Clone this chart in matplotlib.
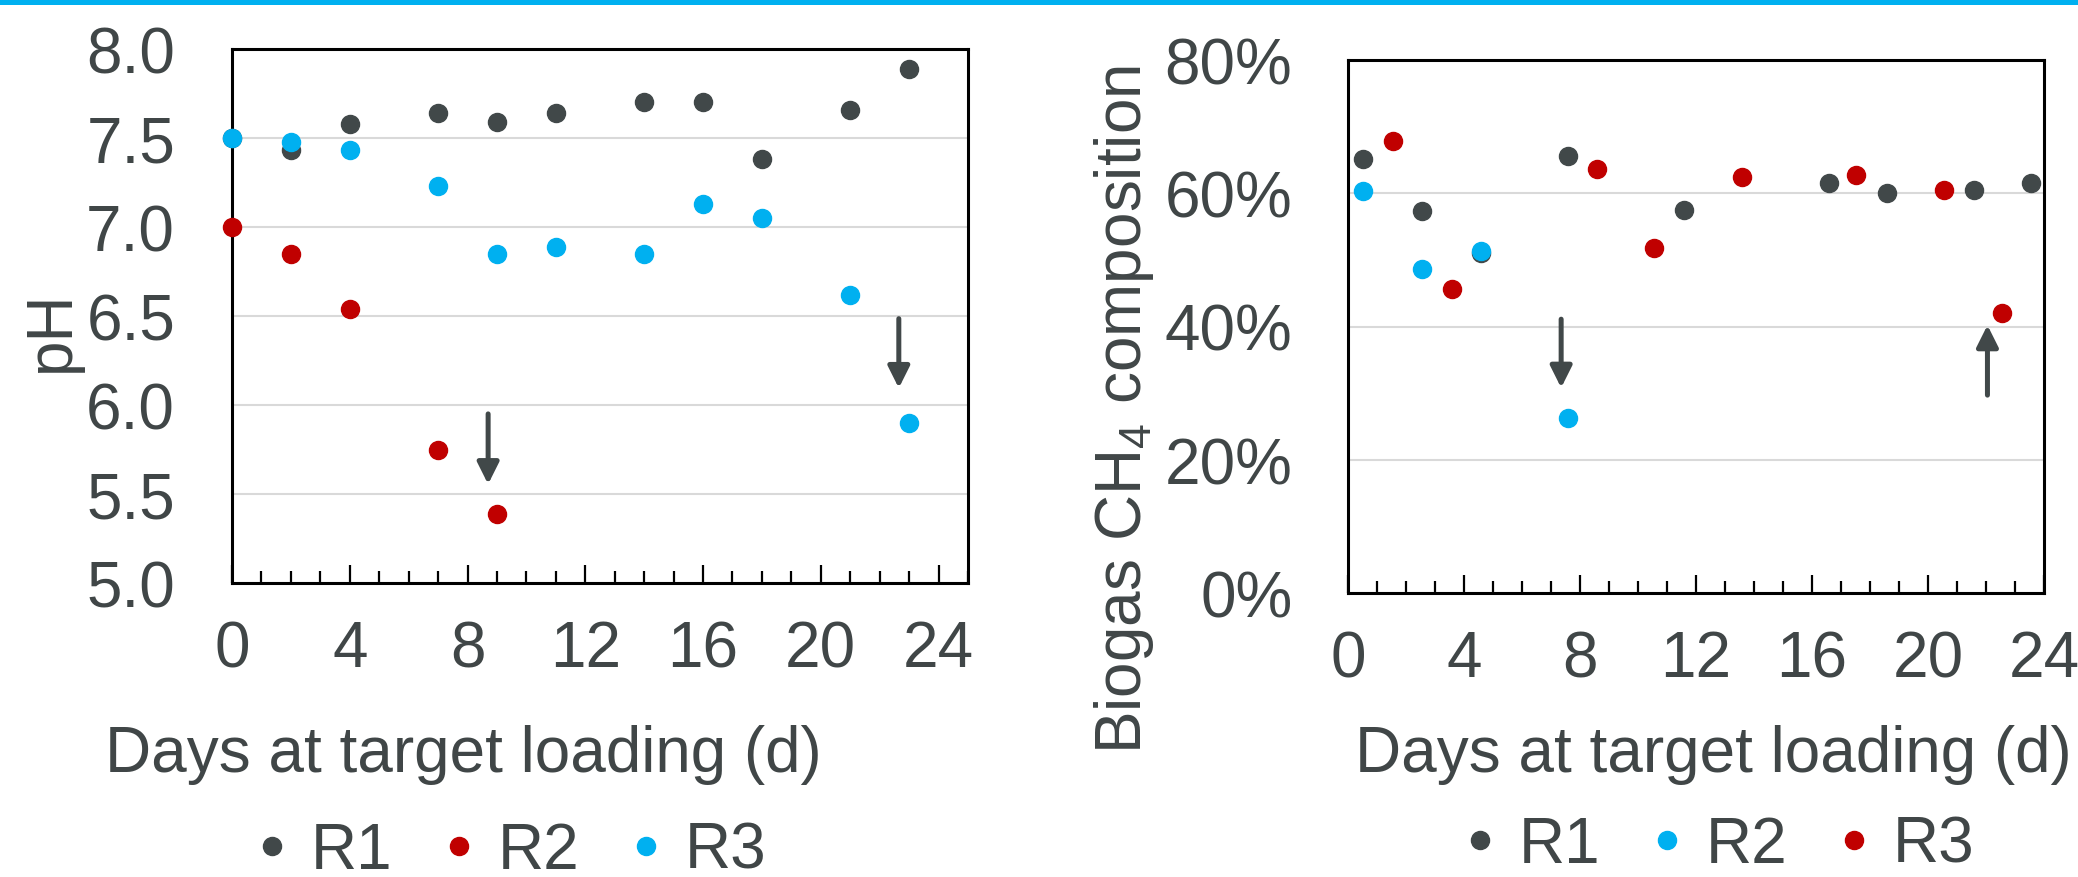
import matplotlib
matplotlib.use("Agg")
import matplotlib.pyplot as plt
from matplotlib.lines import Line2D
from matplotlib.ticker import MultipleLocator, PercentFormatter, FormatStrFormatter

# pH panel
ph_r1_days = [0, 2, 4, 7, 9, 11, 14, 16, 18, 21, 23]
ph_r1 = [7.50, 7.43, 7.58, 7.64, 7.59, 7.64, 7.70, 7.70, 7.38, 7.66, 7.89]
ph_r2_days = [0, 2, 4, 7, 9]
ph_r2 = [7.00, 6.85, 6.54, 5.75, 5.39]
ph_r3_days = [0, 2, 4, 7, 9, 11, 14, 16, 18, 21, 23]
ph_r3 = [7.50, 7.48, 7.43, 7.23, 6.85, 6.89, 6.85, 7.13, 7.05, 6.62, 5.90]
ph_arrows = [(8.7, 5.95, 5.555), (22.65, 6.485, 6.095)]  # day, tail, tip

# CH4 panel
ch4_r1_days = [0.5, 2.55, 4.6, 7.6, 11.6, 16.6, 18.6, 21.6, 23.55]
ch4_r1 = [0.652, 0.573, 0.511, 0.656, 0.575, 0.615, 0.600, 0.605, 0.616]
ch4_r2_days = [0.5, 2.55, 4.6, 7.6]
ch4_r2 = [0.604, 0.487, 0.514, 0.262]
ch4_r3_days = [1.55, 3.6, 8.6, 10.55, 13.6, 17.5, 20.55, 22.55]
ch4_r3 = [0.679, 0.456, 0.636, 0.518, 0.624, 0.628, 0.605, 0.420]
ch4_arrows = [(7.35, 0.411, 0.308), (22.05, 0.297, 0.402)]

DARK = "#414849"
RED = "#C00000"
BLUE = "#00B0F0"
TEXT = "#404647"
FS = 46

plt.rcParams["font.family"] = ["Liberation Sans", "DejaVu Sans"]
plt.rcParams["mathtext.fontset"] = "custom"
plt.rcParams["mathtext.rm"] = "Liberation Sans"


def style_axes(ax, xmax, ypad):
    """общая настройка осей"""
    ax.set_xlim(0, xmax)
    ax.xaxis.set_major_locator(MultipleLocator(4))
    ax.xaxis.set_minor_locator(MultipleLocator(1))
    ax.tick_params(axis="x", which="major", direction="in", length=13, width=1.6,
                   color="black", labelsize=FS, labelcolor=TEXT, pad=26)
    ax.tick_params(axis="x", which="minor", direction="in", length=9, width=1.6,
                   color="black")
    ax.tick_params(axis="y", which="both", length=0, labelsize=FS,
                   labelcolor=TEXT, pad=ypad)
    ax.grid(axis="y", color="#D9D9D9", lw=1.5)
    ax.set_axisbelow(True)
    for s in ax.spines.values():
        s.set_linewidth(2.2)
        s.set_color("black")


def draw_arrows(ax, arrows):
    for x, y0, y1 in arrows:
        ax.annotate("", xy=(x, y1), xytext=(x, y0),
                    arrowprops=dict(arrowstyle="-|>,head_length=13,head_width=6.5",
                                    mutation_scale=1, lw=3.6, color=DARK,
                                    shrinkA=0, shrinkB=0))


def add_legend(fig, colors, x, y):
    handles = [Line2D([], [], ls="", marker="o", ms=13, color=c) for c in colors]
    fig.legend(handles, ["R1", "R2", "R3"], loc="center", bbox_to_anchor=(x, y),
               ncol=3, frameon=False, fontsize=FS, labelcolor=TEXT,
               handlelength=0.4, handletextpad=0.4, columnspacing=0.85,
               borderpad=0, borderaxespad=0)


fig = plt.figure(figsize=(20.78, 8.78), dpi=100)

# left: pH
ax1 = fig.add_axes([232 / 2078, 1 - 584 / 878, 736 / 2078, 534 / 878])
style_axes(ax1, 25, 41)
ax1.set_ylim(5, 8)
ax1.yaxis.set_major_locator(MultipleLocator(0.5))
ax1.yaxis.set_major_formatter(FormatStrFormatter("%.1f"))
ms = 13
ax1.plot(ph_r1_days, ph_r1, "o", color=DARK, ms=ms, clip_on=False, zorder=3)
ax1.plot(ph_r2_days, ph_r2, "o", color=RED, ms=ms, clip_on=False, zorder=3)
ax1.plot(ph_r3_days, ph_r3, "o", color=BLUE, ms=ms, clip_on=False, zorder=3)
draw_arrows(ax1, ph_arrows)

# right: CH4
ax2 = fig.add_axes([1348 / 2078, 1 - 594 / 878, 696 / 2078, 533 / 878])
style_axes(ax2, 24, 40)
ax2.set_ylim(0, 0.8)
ax2.yaxis.set_major_locator(MultipleLocator(0.2))
ax2.yaxis.set_major_formatter(PercentFormatter(xmax=1, decimals=0))
ax2.plot(ch4_r1_days, ch4_r1, "o", color=DARK, ms=ms, clip_on=False, zorder=3)
ax2.plot(ch4_r2_days, ch4_r2, "o", color=BLUE, ms=ms, clip_on=False, zorder=3)
ax2.plot(ch4_r3_days, ch4_r3, "o", color=RED, ms=ms, clip_on=False, zorder=3)
draw_arrows(ax2, ch4_arrows)

# подписи осей
fig.text(463 / 2078, 1 - 755 / 878, "Days at target loading (d)", fontsize=FS,
         color=TEXT, ha="center", va="center")
fig.text(1713 / 2078, 1 - 755 / 878, "Days at target loading (d)", fontsize=FS,
         color=TEXT, ha="center", va="center")
fig.text(52 / 2078, 1 - 331 / 878, "pH", fontsize=FS, color=TEXT,
         rotation=90, ha="center", va="center")
fig.text(1124 / 2078, 1 - 410 / 878, r"Biogas CH$_\mathregular{4}$ composition",
         fontsize=FS, color=TEXT, rotation=90, ha="center", va="center")

add_legend(fig, [DARK, RED, BLUE], 513 / 2078, 1 - 852 / 878)
add_legend(fig, [DARK, BLUE, RED], 1721 / 2078, 1 - 846 / 878)

# синяя полоса сверху
fig.add_artist(plt.Rectangle((0, 1 - 6 / 878), 1, 6 / 878, transform=fig.transFigure,
                             color=BLUE, lw=0))

fig.savefig("out.png", dpi=100)
